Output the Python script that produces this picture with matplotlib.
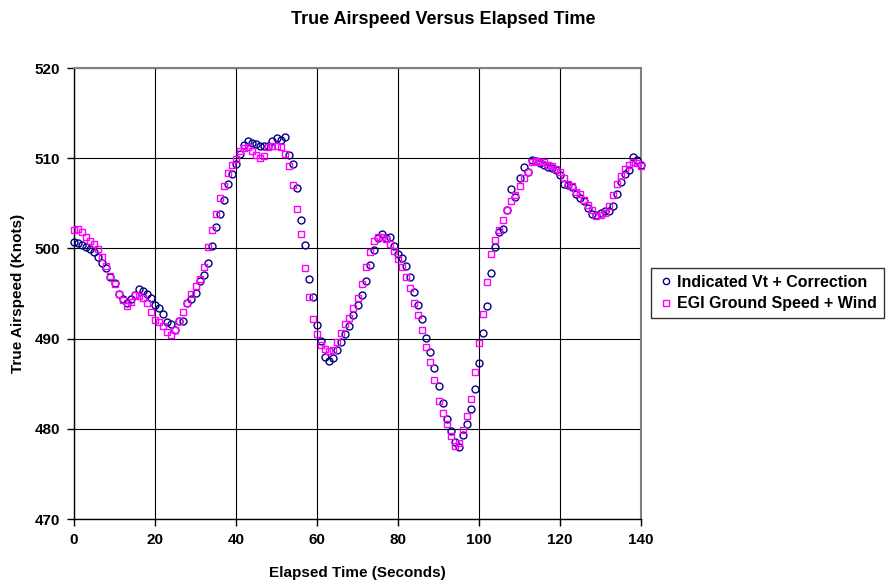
import matplotlib
matplotlib.use("Agg")
import matplotlib.pyplot as plt
import numpy as np

plt.rcParams['font.family'] = ['Liberation Sans', 'DejaVu Sans']

time_s = list(range(0, 141))

indicated_vt = [
    500.7, 500.6, 500.4, 500.2, 499.9, 499.6, 499.1, 498.4, 497.8, 496.8,
    496.2, 495.0, 494.4, 493.9, 494.4, 494.8, 495.5, 495.3, 494.9, 494.5,
    493.7, 493.4, 492.7, 491.8, 491.6, 491.0, 491.9, 491.9, 493.9, 494.4,
    495.1, 496.4, 497.1, 498.4, 500.3, 502.4, 503.8, 505.4, 507.1, 508.3,
    509.4, 510.5, 511.5, 511.9, 511.7, 511.6, 511.4, 511.3, 511.4, 511.9,
    512.2, 512.0, 512.3, 510.3, 509.4, 506.7, 503.2, 500.4, 496.6, 494.6,
    491.5, 489.7, 488.0, 487.5, 487.8, 488.7, 489.6, 490.5, 491.35, 492.6,
    493.7, 494.8, 496.4, 498.2, 499.85, 501.1, 501.55, 501.2, 501.3, 500.3,
    499.4, 498.9, 498.0, 496.8, 495.2, 493.7, 492.2, 490.1, 488.5, 486.7,
    484.7, 482.85, 481.1, 479.8, 478.5, 478.0, 479.3, 480.5, 482.2, 484.4,
    487.3, 490.65, 493.6, 497.3, 500.2, 501.8, 502.1, 504.3, 506.6, 505.7,
    507.8, 509.0, 508.5, 509.8, 509.7, 509.45, 509.2, 509.0, 508.9, 508.7,
    508.1, 507.1, 507.0, 506.8, 506.0, 505.6, 505.2, 504.5, 503.8, 503.7,
    503.9, 504.1, 504.2, 504.7, 506.0, 507.35, 508.2, 508.7, 510.1, 509.8,
    509.3,
]

egi_ground_speed = [
    502.0, 502.1, 501.85, 501.3, 500.85, 500.45, 499.9, 499.1, 498.0, 496.9,
    496.0, 495.0, 494.3, 493.6, 494.1, 494.8, 494.75, 494.45, 493.9, 492.9,
    492.1, 491.8, 491.4, 490.7, 490.4, 491.0, 492.0, 492.9, 493.9, 495.0,
    495.8, 496.6, 497.9, 500.2, 502.0, 503.8, 505.6, 506.9, 508.4, 509.2,
    509.9, 510.8, 511.1, 511.2, 510.8, 510.3, 510.0, 510.2, 511.2, 511.4,
    511.3, 511.2, 510.5, 509.1, 507.0, 504.4, 501.6, 497.8, 494.6, 492.2,
    490.5, 489.3, 488.8, 488.6, 488.7, 489.6, 490.65, 491.6, 492.3, 493.4,
    494.5, 496.0, 497.9, 499.6, 500.8, 501.25, 501.25, 501.0, 500.45, 499.7,
    498.8, 497.9, 496.8, 495.6, 494.0, 492.6, 491.0, 489.1, 487.4, 485.4,
    483.1, 481.8, 480.5, 479.2, 478.1, 478.4, 479.9, 481.4, 483.3, 486.3,
    489.5, 492.75, 496.3, 499.4, 500.9, 502.0, 503.1, 504.3, 505.2, 505.9,
    506.95, 507.8, 508.5, 509.56, 509.7, 509.6, 509.56, 509.3, 509.1, 508.8,
    508.5, 507.8, 507.1, 506.9, 506.3, 506.0, 505.4, 504.85, 504.3, 503.6,
    503.7, 503.9, 504.7, 505.9, 507.1, 508.0, 508.8, 509.3, 509.6, 509.45,
    509.1,
]

x_ticks = [0, 20, 40, 60, 80, 100, 120, 140]
y_ticks = [470, 480, 490, 500, 510, 520]

fig = plt.figure(figsize=(8.86, 5.83), dpi=100)
ax = fig.add_axes([74/886, 1-519/583, (641-74)/886, (519-68)/583])

ax.plot(time_s, indicated_vt, linestyle='none', marker='o', markersize=5,
        markerfacecolor='none', markeredgecolor='#000080', markeredgewidth=1.0,
        label='Indicated Vt + Correction', zorder=3, clip_on=False)
ax.plot(time_s, egi_ground_speed, linestyle='none', marker='s', markersize=5,
        markerfacecolor='none', markeredgecolor='#FF00FF', markeredgewidth=1.0,
        label='EGI Ground Speed + Wind', zorder=3, clip_on=False)

ax.set_xlim(0, 140)
ax.set_ylim(470, 520)
ax.set_xticks(x_ticks)
ax.set_yticks(y_ticks)
ax.grid(True, color='black', linewidth=0.8)
ax.set_axisbelow(True)
ax.spines['top'].set_color('#808080')
ax.spines['right'].set_color('#808080')
ax.spines['top'].set_linewidth(1.5)
ax.spines['right'].set_linewidth(1.5)
ax.spines['left'].set_color('black')
ax.spines['bottom'].set_color('black')
ax.spines['left'].set_linewidth(1.0)
ax.spines['bottom'].set_linewidth(1.0)
ax.tick_params(direction='out', length=5, width=1, color='black', labelsize=11, pad=5)
for lab in ax.get_xticklabels() + ax.get_yticklabels():
    lab.set_fontweight('bold')

ax.set_xlabel('Elapsed Time (Seconds)', fontsize=11, fontweight='bold', labelpad=14)
ax.set_ylabel('True Airspeed (Knots)', fontsize=11, fontweight='bold', labelpad=7)
fig.text(443/886, 1-19/583, 'True Airspeed Versus Elapsed Time', ha='center', va='center',
         fontsize=13, fontweight='bold')

leg = fig.legend(loc='center left', bbox_to_anchor=(651/886, 1-293/583),
                 frameon=True, fancybox=False, shadow=False, prop={'weight': 'bold', 'size': 11.5},
                 handletextpad=0.2, borderpad=0.45, labelspacing=0.4, handlelength=1.0,
                 markerscale=0.9, borderaxespad=0)
leg.get_frame().set_edgecolor('black')
leg.get_frame().set_linewidth(1.0)

fig.savefig('out.png', dpi=100)
